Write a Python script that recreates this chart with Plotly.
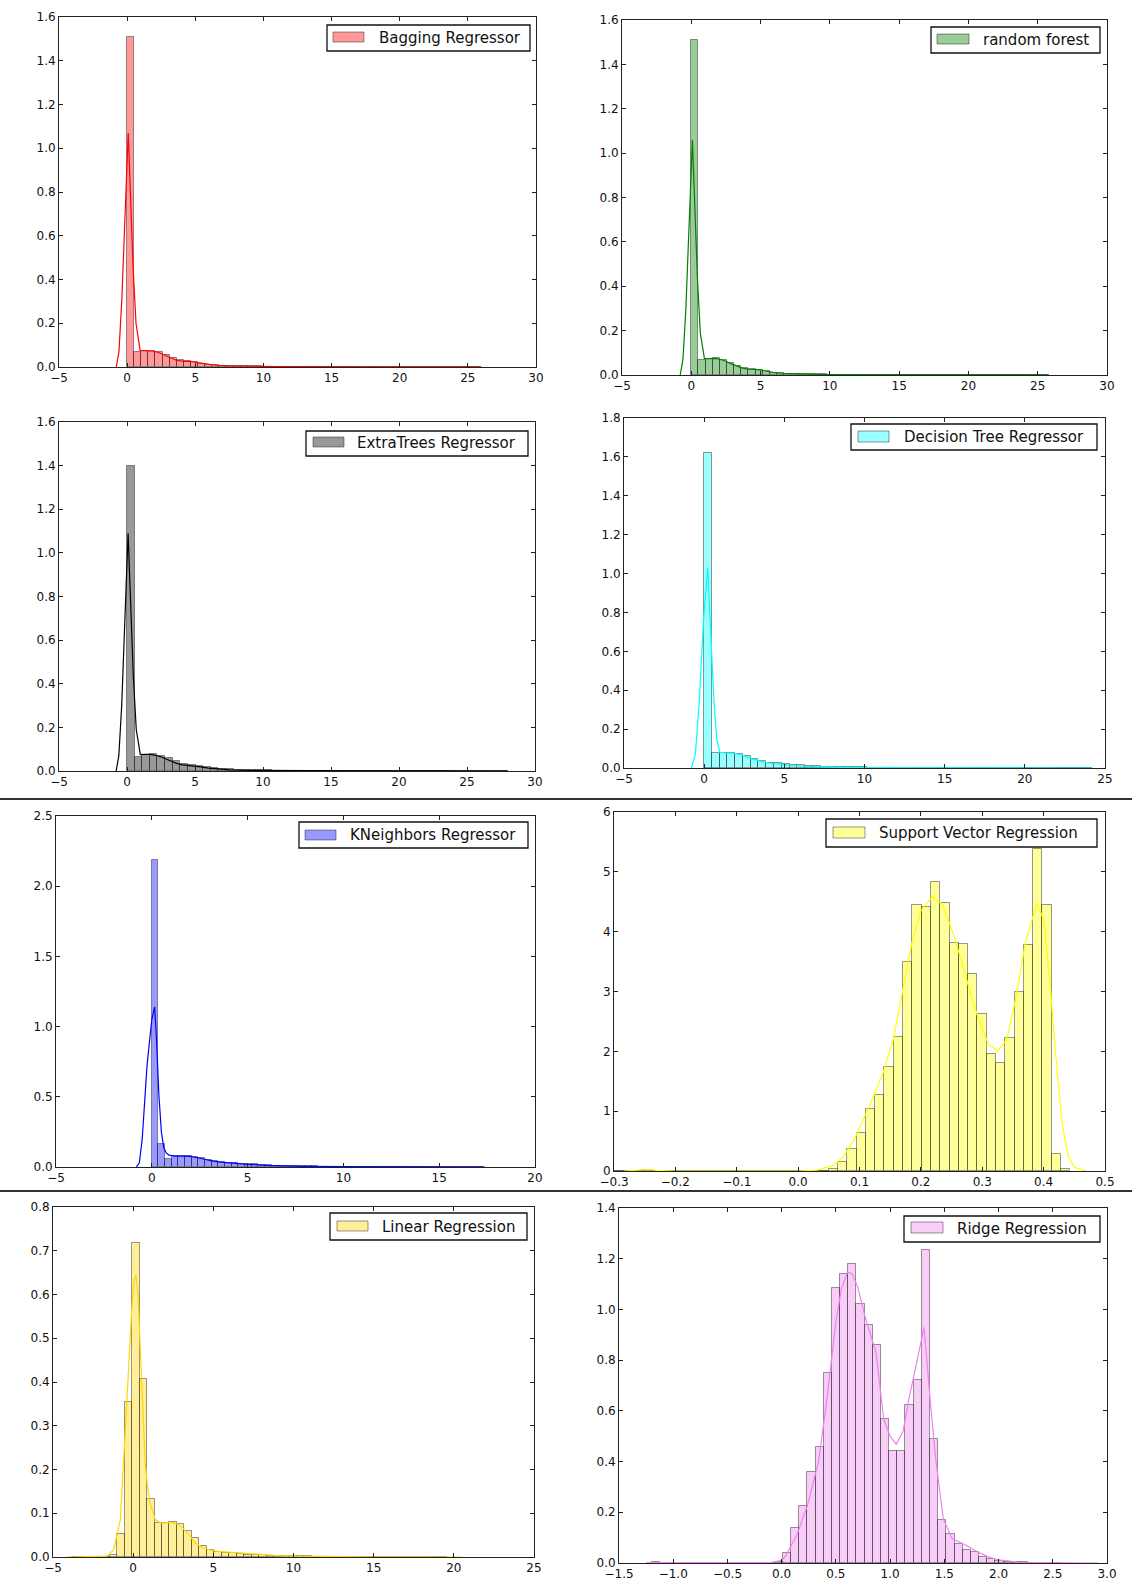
import plotly.graph_objects as go

W, H = 1132, 1580

# ---------------- data ----------------
# Bagging Regressor
BAG_START, BAG_WIDTH = 0.0, 0.52
BAG_HEIGHTS = [1.51, 0.070, 0.075, 0.075, 0.068, 0.055, 0.040, 0.030, 0.027, 0.025,
               0.016, 0.011, 0.008, 0.006, 0.005, 0.004, 0.0035, 0.003, 0.0025, 0.002,
               0.002, 0.0015, 0.0015, 0.001, 0.001, 0.001, 0.0008, 0.0008, 0.0006, 0.0006,
               0.0005, 0.0005, 0.0004, 0.0004, 0.0003, 0.0003, 0.0003, 0.0002, 0.0002, 0.0002,
               0.0002, 0.0001, 0.0001, 0.0001, 0.0001, 0.0001, 0.0001, 0.0001, 0.0001, 0.0001]
BAG_KDE_X = [-0.8, -0.6, -0.39, -0.13, 0.08, 0.26, 0.44, 0.65, 0.95, 1.2, 1.6, 2.0, 2.4, 2.8,
             3.2, 3.6, 4.0, 4.4, 4.8, 5.2, 5.8, 6.5, 7.5, 9.0, 11.0, 14.0, 18.0, 22.0, 26.0]
BAG_KDE_Y = [0.0, 0.07, 0.31, 0.76, 1.07, 0.76, 0.45, 0.20, 0.076, 0.075, 0.075, 0.072, 0.064, 0.052,
             0.040, 0.031, 0.027, 0.026, 0.025, 0.020, 0.013, 0.008, 0.005, 0.003, 0.002, 0.001,
             0.0006, 0.0003, 0.0]

# random forest
RF_START, RF_WIDTH = 0.0, 0.516
RF_HEIGHTS = [1.51, 0.068, 0.074, 0.075, 0.067, 0.054, 0.040, 0.030, 0.026, 0.024,
              0.016, 0.011, 0.008, 0.006, 0.005, 0.004, 0.0035, 0.003, 0.0025, 0.002,
              0.002, 0.0015, 0.0015, 0.001, 0.001, 0.001, 0.0008, 0.0008, 0.0006, 0.0006,
              0.0005, 0.0005, 0.0004, 0.0004, 0.0003, 0.0003, 0.0003, 0.0002, 0.0002, 0.0002,
              0.0002, 0.0001, 0.0001, 0.0001, 0.0001, 0.0001, 0.0001, 0.0001, 0.0001, 0.0001]
RF_KDE_X = [-0.8, -0.6, -0.39, -0.13, 0.08, 0.26, 0.44, 0.65, 0.95, 1.3, 1.7, 2.1, 2.5, 2.9,
            3.3, 3.7, 4.1, 4.5, 4.9, 5.3, 5.9, 6.6, 7.5, 9.0, 11.0, 14.0, 18.0, 22.0, 25.8]
RF_KDE_Y = [0.0, 0.07, 0.30, 0.75, 1.06, 0.75, 0.44, 0.19, 0.074, 0.074, 0.075, 0.070, 0.062, 0.050,
            0.040, 0.031, 0.026, 0.025, 0.024, 0.019, 0.012, 0.008, 0.005, 0.003, 0.002, 0.001,
            0.0006, 0.0003, 0.0]

# ExtraTrees Regressor
ET_START, ET_WIDTH = 0.0, 0.56
ET_HEIGHTS = [1.40, 0.066, 0.075, 0.076, 0.070, 0.058, 0.044, 0.033, 0.027, 0.025,
              0.018, 0.012, 0.009, 0.007, 0.005, 0.004, 0.0035, 0.003, 0.0025, 0.002,
              0.002, 0.0015, 0.0015, 0.001, 0.001, 0.001, 0.0008, 0.0008, 0.0006, 0.0006,
              0.0005, 0.0005, 0.0004, 0.0004, 0.0003, 0.0003, 0.0003, 0.0002, 0.0002, 0.0002,
              0.0002, 0.0001, 0.0001, 0.0001, 0.0001, 0.0001, 0.0001, 0.0001, 0.0001, 0.0001]
ET_KDE_X = [-0.8, -0.6, -0.39, -0.13, 0.08, 0.28, 0.46, 0.68, 0.98, 1.3, 1.7, 2.1, 2.5, 2.9,
            3.3, 3.7, 4.1, 4.5, 4.9, 5.4, 6.0, 6.7, 7.6, 9.0, 11.0, 14.0, 18.0, 23.0, 28.0]
ET_KDE_Y = [0.0, 0.07, 0.30, 0.78, 1.09, 0.75, 0.44, 0.19, 0.075, 0.076, 0.076, 0.072, 0.065, 0.054,
            0.043, 0.034, 0.028, 0.026, 0.024, 0.019, 0.013, 0.008, 0.005, 0.003, 0.002, 0.001,
            0.0006, 0.0003, 0.0]

# Decision Tree Regressor
DT_START, DT_WIDTH = 0.0, 0.484
DT_HEIGHTS = [1.62, 0.078, 0.078, 0.076, 0.072, 0.060, 0.045, 0.035, 0.028, 0.025,
              0.021, 0.017, 0.013, 0.010, 0.008, 0.007, 0.006, 0.005, 0.004, 0.0035,
              0.003, 0.0025, 0.002, 0.002, 0.0015, 0.0015, 0.001, 0.001, 0.001, 0.0008,
              0.0008, 0.0006, 0.0006, 0.0005, 0.0005, 0.0004, 0.0004, 0.0003, 0.0003, 0.0003,
              0.0002, 0.0002, 0.0002, 0.0001, 0.0001, 0.0001, 0.0001, 0.0001, 0.0001, 0.0001]
DT_KDE_X = [-0.8, -0.55, -0.3, -0.05, 0.22, 0.42, 0.6, 0.78, 0.98, 1.3, 1.7, 2.1, 2.5, 2.9,
            3.3, 3.7, 4.1, 4.5, 5.0, 5.6, 6.3, 7.2, 8.5, 10.0, 12.0, 15.0, 18.0, 21.0, 24.2]
DT_KDE_Y = [0.0, 0.07, 0.35, 0.75, 1.03, 0.70, 0.36, 0.15, 0.080, 0.078, 0.077, 0.072, 0.062, 0.048,
            0.037, 0.030, 0.025, 0.021, 0.017, 0.012, 0.008, 0.005, 0.003, 0.002, 0.0012,
            0.0007, 0.0004, 0.0002, 0.0]

# KNeighbors Regressor
KNN_START, KNN_WIDTH = 0.0, 0.348
KNN_HEIGHTS = [2.19, 0.166, 0.055, 0.076, 0.078, 0.078, 0.072, 0.062, 0.050, 0.042,
               0.036, 0.031, 0.027, 0.024, 0.021, 0.018, 0.015, 0.012, 0.010, 0.009,
               0.008, 0.007, 0.006, 0.005, 0.004, 0.0035, 0.003, 0.0025, 0.002, 0.002,
               0.0015, 0.0015, 0.001, 0.001, 0.001, 0.0008, 0.0008, 0.0006, 0.0006, 0.0005,
               0.0005, 0.0004, 0.0004, 0.0003, 0.0003, 0.0003, 0.0002, 0.0002, 0.0001, 0.0001]
KNN_KDE_X = [-0.8, -0.65, -0.5, -0.37, -0.25, -0.1, 0.0, 0.15, 0.25, 0.37, 0.5, 0.62, 0.75, 0.9,
             1.2, 1.6, 2.0, 2.4, 2.8, 3.2, 3.6, 4.0, 4.5, 5.0, 6.0, 7.0, 8.0, 10.0, 12.0, 15.0, 17.3]
KNN_KDE_Y = [0.0, 0.03, 0.2, 0.51, 0.72, 0.92, 1.05, 1.14, 0.90, 0.51, 0.25, 0.14, 0.10, 0.085,
             0.078, 0.078, 0.076, 0.066, 0.052, 0.042, 0.035, 0.029, 0.024, 0.019, 0.012, 0.008,
             0.005, 0.003, 0.002, 0.001, 0.0]

# Support Vector Regression
SVR_START, SVR_WIDTH = -0.3139, 0.01515
SVR_HEIGHTS = [0.0, 0.0, 0.0, 0.0, 0.015, 0.0, 0.0, 0.0, 0.0, 0.0,
               0.0, 0.0, 0.0, 0.0, 0.0, 0.0, 0.0, 0.0, 0.0, 0.0,
               0.0, 0.0, 0.0, 0.0,
               0.03, 0.15, 0.36, 0.64, 1.03, 1.27, 1.74, 2.24, 3.49, 4.44,
               4.41, 4.83, 4.48, 3.81, 3.79, 3.29, 2.63, 1.96, 1.80, 2.23,
               3.00, 3.77, 5.38, 4.44, 0.28, 0.04]
SVR_KDE_X = [-0.284, -0.26, -0.245, -0.23, -0.2, -0.1, 0.0, 0.03, 0.057, 0.075, 0.092, 0.11, 0.125,
             0.139, 0.155, 0.17, 0.185, 0.2, 0.219, 0.235, 0.25, 0.265, 0.28, 0.295, 0.31, 0.325,
             0.34, 0.355, 0.37, 0.389, 0.4, 0.41, 0.42, 0.43, 0.44, 0.45, 0.469]
SVR_KDE_Y = [0.0, 0.01, 0.025, 0.01, 0.0, 0.0, 0.0, 0.015, 0.09, 0.26, 0.54, 0.95, 1.3,
             1.66, 2.2, 3.0, 3.8, 4.35, 4.59, 4.45, 4.05, 3.55, 3.0, 2.5, 2.12, 2.0,
             2.2, 2.9, 3.8, 4.48, 4.2, 3.2, 1.9, 0.8, 0.25, 0.06, 0.0]

# Linear Regression
LIN_START, LIN_WIDTH = -3.806, 0.467
LIN_HEIGHTS = [0.0, 0.0, 0.0005, 0.0005, 0.001, 0.005, 0.052, 0.355, 0.718, 0.407,
               0.133, 0.078, 0.078, 0.080, 0.075, 0.060, 0.043, 0.025, 0.016, 0.012,
               0.010, 0.009, 0.007, 0.005, 0.004, 0.0035, 0.003, 0.0025, 0.002, 0.002,
               0.0015, 0.0015, 0.001, 0.001, 0.001, 0.0008, 0.0008, 0.0006, 0.0006, 0.0005,
               0.0005, 0.0004, 0.0004, 0.0003, 0.0003, 0.0002, 0.0002, 0.0001, 0.0001, 0.0001]
LIN_KDE_X = [-4.2, -3.0, -2.0, -1.63, -1.22, -0.8, -0.49, -0.29, -0.1, 0.05, 0.17, 0.3, 0.55, 0.75,
             0.9, 1.06, 1.38, 1.7, 2.0, 2.4, 2.8, 3.1, 3.5, 3.86, 4.3, 4.8, 5.3, 6.0, 7.0, 8.0,
             9.0, 10.0, 12.0, 15.0, 18.0, 20.5]
LIN_KDE_Y = [0.0, 0.0003, 0.0008, 0.002, 0.016, 0.085, 0.29, 0.44, 0.56, 0.63, 0.645, 0.60, 0.405,
             0.215, 0.16, 0.123, 0.085, 0.078, 0.078, 0.079, 0.075, 0.066, 0.050, 0.032, 0.022,
             0.016, 0.013, 0.011, 0.008, 0.005, 0.003, 0.002, 0.001, 0.0005, 0.0002, 0.0]

# Ridge Regression
RID_START, RID_WIDTH = -1.196, 0.0754
RID_HEIGHTS = [0.002, 0.001, 0.0, 0.0, 0.0, 0.0, 0.0, 0.0, 0.0, 0.0,
               0.0, 0.0, 0.0, 0.0, 0.0, 0.002,
               0.04, 0.14, 0.224, 0.357, 0.456, 0.748, 1.084, 1.14, 1.18, 1.02,
               0.94, 0.86, 0.568, 0.443, 0.443, 0.623, 0.722, 1.236, 0.491, 0.169,
               0.116, 0.076, 0.05, 0.043, 0.024, 0.014, 0.008, 0.005, 0.003, 0.002,
               0.001, 0.001, 0.0005, 0.0005]
RID_KDE_X = [-1.25, -1.0, -0.5, -0.1, 0.0, 0.04, 0.14, 0.24, 0.34, 0.41, 0.5, 0.55, 0.608, 0.65,
             0.7, 0.77, 0.87, 0.94, 1.0, 1.057, 1.12, 1.17, 1.24, 1.313, 1.37, 1.42, 1.49, 1.57,
             1.7, 1.8, 1.9, 2.0, 2.2, 2.5, 2.92]
RID_KDE_Y = [0.002, 0.002, 0.0, 0.002, 0.01, 0.03, 0.11, 0.23, 0.40, 0.62, 0.95, 1.08, 1.148, 1.14,
             1.09, 0.97, 0.83, 0.57, 0.50, 0.468, 0.52, 0.64, 0.78, 0.929, 0.64, 0.41, 0.175, 0.096,
             0.07, 0.045, 0.025, 0.012, 0.003, 0.001, 0.0]

# ---------------- panels (style + layout) ----------------
panels = [
    dict(name="Bagging Regressor", start=BAG_START, width=BAG_WIDTH, heights=BAG_HEIGHTS,
         kx=BAG_KDE_X, ky=BAG_KDE_Y, line="#FF0000", fill="rgba(255,0,0,0.4)",
         xr=[-5, 30], yr=[0, 1.6], dx=5, dy=0.2, yfmt=".1f", xfmt="d",
         rect=(59, 536, 17, 367), box=(327, 530, 25, 51), sw=(333, 364, 32, 42), tx=377),
    dict(name="random forest", start=RF_START, width=RF_WIDTH, heights=RF_HEIGHTS,
         kx=RF_KDE_X, ky=RF_KDE_Y, line="#008000", fill="rgba(0,128,0,0.4)",
         xr=[-5, 30], yr=[0, 1.6], dx=5, dy=0.2, yfmt=".1f", xfmt="d",
         rect=(622, 1107, 20, 375), box=(931, 1100, 27, 53), sw=(937, 969, 34, 44), tx=981),
    dict(name="ExtraTrees Regressor", start=ET_START, width=ET_WIDTH, heights=ET_HEIGHTS,
         kx=ET_KDE_X, ky=ET_KDE_Y, line="#000000", fill="rgba(0,0,0,0.4)",
         xr=[-5, 30], yr=[0, 1.6], dx=5, dy=0.2, yfmt=".1f", xfmt="d",
         rect=(59, 535, 422, 771), box=(306, 528, 431, 456), sw=(313, 344, 437, 447), tx=355),
    dict(name="Decision Tree Regressor", start=DT_START, width=DT_WIDTH, heights=DT_HEIGHTS,
         kx=DT_KDE_X, ky=DT_KDE_Y, line="#00FFFF", fill="rgba(0,255,255,0.4)",
         xr=[-5, 25], yr=[0, 1.8], dx=5, dy=0.2, yfmt=".1f", xfmt="d",
         rect=(624, 1105, 418, 768), box=(851, 1097, 424, 450), sw=(858, 889, 431, 442), tx=902),
    dict(name="KNeighbors Regressor", start=KNN_START, width=KNN_WIDTH, heights=KNN_HEIGHTS,
         kx=KNN_KDE_X, ky=KNN_KDE_Y, line="#0000FF", fill="rgba(0,0,255,0.4)",
         xr=[-5, 20], yr=[0, 2.5], dx=5, dy=0.5, yfmt=".1f", xfmt="d",
         rect=(56, 535, 816, 1167), box=(299, 528, 822, 848), sw=(305, 336, 830, 840), tx=348),
    dict(name="Support Vector Regression", start=SVR_START, width=SVR_WIDTH, heights=SVR_HEIGHTS,
         kx=SVR_KDE_X, ky=SVR_KDE_Y, line="#FFFF00", fill="rgba(255,255,0,0.4)",
         xr=[-0.3, 0.5], yr=[0, 6], dx=0.1, dy=1, yfmt="d", xfmt=".1f",
         rect=(614, 1105, 812, 1171), box=(826, 1097, 819, 847), sw=(833, 865, 827, 838), tx=877),
    dict(name="Linear Regression", start=LIN_START, width=LIN_WIDTH, heights=LIN_HEIGHTS,
         kx=LIN_KDE_X, ky=LIN_KDE_Y, line="#FFD700", fill="rgba(255,215,0,0.4)",
         xr=[-5, 25], yr=[0, 0.8], dx=5, dy=0.1, yfmt=".1f", xfmt="d",
         rect=(53, 534, 1207, 1557), box=(330, 527, 1213, 1240), sw=(337, 368, 1221, 1231), tx=380),
    dict(name="Ridge Regression", start=RID_START, width=RID_WIDTH, heights=RID_HEIGHTS,
         kx=RID_KDE_X, ky=RID_KDE_Y, line="#EE82EE", fill="rgba(238,130,238,0.4)",
         xr=[-1.5, 3.0], yr=[0, 1.4], dx=0.5, dy=0.2, yfmt=".1f", xfmt=".1f",
         rect=(619, 1107, 1208, 1563), box=(904, 1100, 1216, 1242), sw=(911, 943, 1222, 1233), tx=955),
]

FONT = "DejaVu Sans, Liberation Sans, sans-serif"
AX = "#222222"
EDGE = "rgba(0,0,0,0.4)"


def px(x):
    return x / W


def py(y):
    return 1 - y / H


fig = go.Figure()
layout = dict(width=W, height=H, margin=dict(l=0, r=0, t=0, b=0, autoexpand=False),
              paper_bgcolor="white", plot_bgcolor="white", showlegend=False,
              font=dict(family=FONT, color="#111111"), bargap=0)
shapes = []
annotations = []

for i, p in enumerate(panels):
    n = i + 1
    xa = "x" if n == 1 else f"x{n}"
    ya = "y" if n == 1 else f"y{n}"
    centers = [p["start"] + p["width"] * (k + 0.5) for k in range(len(p["heights"]))]
    fig.add_trace(go.Bar(x=centers, y=p["heights"], width=[p["width"]] * len(centers),
                         marker=dict(color=p["fill"], line=dict(color=EDGE, width=1)),
                         xaxis=xa, yaxis=ya, name=p["name"], hoverinfo="skip"))
    fig.add_trace(go.Scatter(x=p["kx"], y=p["ky"], mode="lines",
                             line=dict(color=p["line"], width=1.2),
                             xaxis=xa, yaxis=ya, hoverinfo="skip"))
    l, r, t, b = p["rect"]
    axis_common = dict(showline=True, linecolor=AX, linewidth=1, mirror="ticks",
                       ticks="inside", ticklen=4, tickwidth=1, tickcolor=AX,
                       showgrid=False, zeroline=False, automargin=False,
                       tickfont=dict(family=FONT, size=12, color="#111111"))
    xkey = "xaxis" if n == 1 else f"xaxis{n}"
    ykey = "yaxis" if n == 1 else f"yaxis{n}"
    xr = p["xr"]
    yr = p["yr"]
    layout[xkey] = dict(domain=[px(l), px(r)], anchor=ya, range=xr,
                        tick0=xr[0], dtick=p["dx"], tickformat=p["xfmt"], **axis_common)
    layout[ykey] = dict(domain=[py(b), py(t)], anchor=xa, range=yr,
                        tick0=0, dtick=p["dy"], tickformat=p["yfmt"], **axis_common)
    # legend
    bl, br, bt, bb = p["box"]
    shapes.append(dict(type="rect", xref="paper", yref="paper",
                       x0=px(bl), x1=px(br), y0=py(bb), y1=py(bt),
                       line=dict(color="#111111", width=1.3), fillcolor="white", layer="above"))
    sl, sr, st, sb = p["sw"]
    shapes.append(dict(type="rect", xref="paper", yref="paper",
                       x0=px(sl), x1=px(sr), y0=py(sb), y1=py(st),
                       line=dict(color=EDGE, width=1), fillcolor=p["fill"], layer="above"))
    annotations.append(dict(xref="paper", yref="paper", x=px(p["tx"]), y=py((bt + bb) / 2),
                            text=p["name"], showarrow=False, xanchor="left", yanchor="middle",
                            font=dict(family=FONT, size=15, color="#111111")))

# separators between the stacked screenshots
for ys in (799, 1191):
    shapes.append(dict(type="line", xref="paper", yref="paper", x0=0, x1=1,
                       y0=py(ys), y1=py(ys), line=dict(color="#333333", width=2)))

layout["shapes"] = shapes
layout["annotations"] = annotations
fig.update_layout(**layout)

fig.write_html("out.html", config={"displayModeBar": False},
               post_script="document.body.style.margin='0';document.body.style.overflow='hidden';")
